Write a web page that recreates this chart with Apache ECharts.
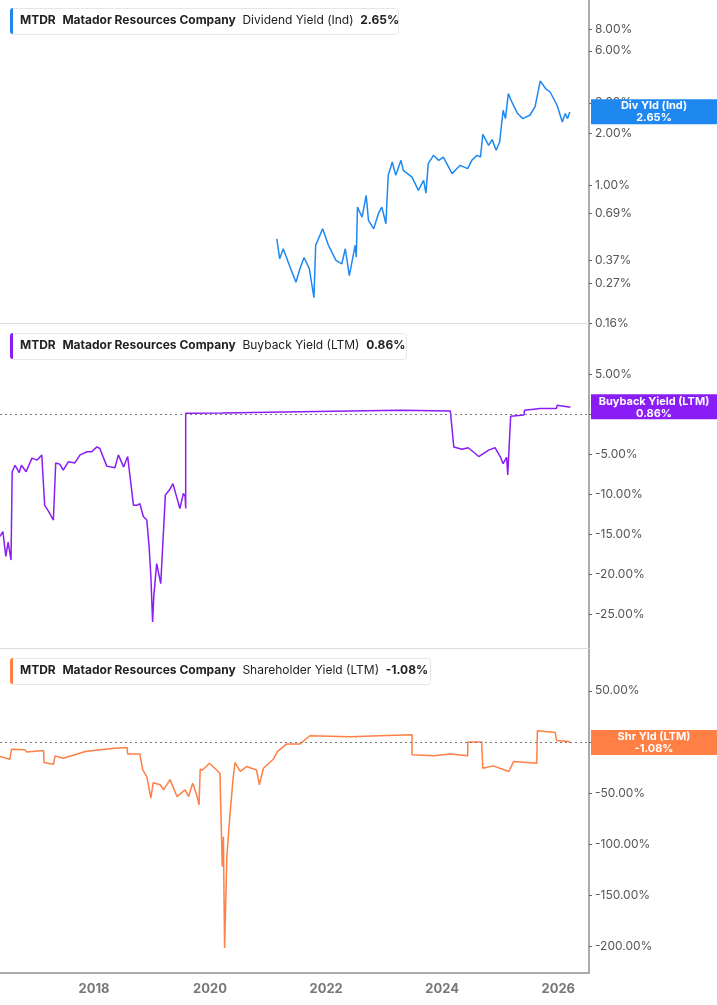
<!DOCTYPE html>
<html>
<head>
<meta charset="UTF-8">
<title></title>
<style>
  html, body { margin: 0; padding: 0; background: #fff; }
  #chart { width: 717px; height: 1005px; }
</style>
</head>
<body>
<div id="chart"></div>
<script src="https://cdn.jsdelivr.net/npm/echarts@6/dist/echarts.min.js"></script>
<script>
// dates as decimal years
var divYears = [2021.15,2021.20,2021.26,2021.38,2021.48,2021.55,2021.62,2021.71,2021.79,2021.82,2021.94,2022.04,2022.17,2022.27,2022.33,2022.40,2022.50,2022.52,2022.54,2022.62,2022.69,2022.73,2022.82,2022.90,2022.96,2023.03,2023.07,2023.14,2023.20,2023.29,2023.33,2023.48,2023.59,2023.68,2023.72,2023.76,2023.85,2023.94,2024.02,2024.17,2024.31,2024.44,2024.51,2024.60,2024.66,2024.70,2024.80,2024.86,2024.93,2024.99,2025.05,2025.09,2025.14,2025.20,2025.30,2025.39,2025.51,2025.60,2025.69,2025.78,2025.86,2025.98,2026.07,2026.12,2026.16,2026.20,2026.21];
var divYield = [0.491,0.376,0.430,0.336,0.275,0.331,0.383,0.330,0.224,0.450,0.561,0.450,0.368,0.352,0.430,0.301,0.450,0.384,0.749,0.655,0.875,0.627,0.561,0.686,0.749,0.600,1.143,1.364,1.143,1.395,1.221,1.117,0.936,1.069,0.902,1.336,1.492,1.395,1.458,1.169,1.306,1.249,1.395,1.492,1.458,1.974,1.704,1.839,1.595,1.781,2.718,2.433,3.396,3.036,2.602,2.433,2.543,2.841,4.018,3.630,3.467,2.906,2.326,2.602,2.433,2.658,2.65];

var bbYears = [2016.38,2016.43,2016.48,2016.52,2016.57,2016.59,2016.64,2016.71,2016.75,2016.83,2016.93,2017.02,2017.10,2017.13,2017.15,2017.22,2017.30,2017.33,2017.34,2017.41,2017.47,2017.56,2017.67,2017.76,2017.88,2017.96,2018.05,2018.10,2018.22,2018.36,2018.42,2018.51,2018.58,2018.58,2018.68,2018.74,2018.79,2018.85,2018.91,2018.95,2018.98,2019.01,2019.03,2019.08,2019.11,2019.15,2019.23,2019.30,2019.36,2019.43,2019.48,2019.54,2019.57,2019.58,2019.58,2019.60,2020.20,2021.55,2023.28,2024.14,2024.20,2024.34,2024.45,2024.63,2024.80,2024.91,2025.00,2025.05,2025.11,2025.13,2025.18,2025.41,2025.42,2025.69,2025.97,2025.98,2026.21];
var bbYield = [-15.3,-14.7,-17.8,-16.0,-18.25,-7.2,-6.4,-7.3,-6.4,-7.2,-5.5,-5.75,-5.1,-5.3,-11.4,-12.2,-13.25,-13.25,-6.1,-6.25,-7.0,-5.95,-6.1,-5.1,-4.7,-4.7,-4.1,-4.3,-6.5,-6.7,-5.1,-6.6,-5.3,-5.3,-11.4,-11.4,-11.2,-12.8,-13.25,-16.6,-20.3,-26.0,-22.8,-18.7,-18.9,-21.2,-10.1,-9.5,-8.7,-10.5,-11.8,-9.9,-10.3,-11.8,0.1,0.1,0.15,0.3,0.5,0.4,-4.1,-4.4,-4.2,-5.3,-4.5,-4.2,-5.3,-6.2,-5.4,-7.6,-0.25,-0.1,0.5,0.7,0.7,1.1,0.86];

var shYears = [2016.38,2016.55,2016.58,2016.81,2016.84,2017.13,2017.14,2017.30,2017.33,2017.47,2017.85,2018.10,2018.36,2018.57,2018.58,2018.79,2018.84,2018.91,2018.98,2019.02,2019.14,2019.20,2019.31,2019.43,2019.57,2019.63,2019.70,2019.77,2019.81,2019.83,2019.87,2019.99,2020.17,2020.21,2020.23,2020.25,2020.29,2020.34,2020.40,2020.43,2020.52,2020.63,2020.80,2020.85,2020.92,2021.09,2021.16,2021.32,2021.55,2021.72,2022.41,2022.93,2023.48,2023.48,2023.85,2024.14,2024.44,2024.44,2024.68,2024.70,2024.88,2025.15,2025.23,2025.63,2025.64,2025.95,2025.97,2026.18,2026.21];
var shYield = [-14.4,-17.0,-7.2,-7.8,-10.0,-8.5,-20.3,-21.9,-13.7,-16.0,-9.5,-7.8,-6.2,-5.6,-11.8,-12.0,-27.5,-34.0,-55.0,-40.0,-42.0,-47.0,-37.0,-53.6,-47.0,-53.6,-40.5,-52.0,-61.8,-26.8,-27.5,-20.9,-30.7,-122,-93,-202,-112,-73,-34,-20.3,-29,-24.2,-27.5,-42,-25.8,-17,-9.5,-2,-2,6,5,6,6.9,-12.7,-13.7,-11.8,-13.7,0,0,-25.8,-23.5,-29,-19.3,-20.9,11,9.1,1.3,0.3,-1.08];

var yearTicks = [2018, 2020, 2022, 2024, 2026];
var divTicks = [8, 6, 3, 2, 1, 0.69, 0.37, 0.27, 0.16];
var bbTicks = [5, 0, -5, -10, -15, -20, -25];
var shTicks = [50, 0, -50, -100, -150, -200];

function zip(xs, ys, f) {
  return xs.map(function (x, i) { return [x, f ? f(ys[i]) : ys[i]]; });
}

var chart = echarts.init(document.getElementById('chart'));
var xMin = 2016.38, xMax = 2026.53;
var grids = [
  { left: 0, right: 128, top: 0, height: 323 },
  { left: 0, right: 128, top: 323, height: 325 },
  { left: 0, right: 128, top: 648, height: 325 }
];
function xAxis(i, show) {
  return {
    type: 'value', gridIndex: i, min: xMin, max: xMax,
    axisLine: { show: true, onZero: false, lineStyle: { color: show ? '#aaa' : '#ddd', width: show ? 2 : 1 } },
    axisTick: { show: false },
    splitLine: { show: false },
    axisLabel: {
      show: show, customValues: yearTicks, color: '#777', fontWeight: 'bold', fontSize: 13,
      fontFamily: 'Inter', margin: 10, formatter: function (v) { return Math.round(v); }
    }
  };
}
function yAxis(i, min, max, ticks, fmt) {
  return {
    type: 'value', gridIndex: i, position: 'right', min: min, max: max,
    axisLine: { show: true, lineStyle: { color: '#aaa', width: 2 } },
    axisTick: { show: true, customValues: ticks, length: 3, lineStyle: { color: '#666' } },
    splitLine: { show: false },
    axisLabel: {
      customValues: ticks, color: '#555', fontSize: 12, fontFamily: 'Inter', margin: 6,
      formatter: fmt
    }
  };
}
var pct = function (v) { return v.toFixed(2) + '%'; };
var zeroLine = {
  silent: true, symbol: 'none', label: { show: false },
  lineStyle: { color: '#777', type: [2, 3], width: 1 },
  data: [{ yAxis: 0 }]
};

chart.setOption({
  animation: false,
  grid: grids,
  xAxis: [xAxis(0, false), xAxis(1, false), xAxis(2, true)],
  yAxis: [
    yAxis(0, Math.log10(0.16), Math.log10(11.8), divTicks.map(Math.log10),
      function (v) { return Math.pow(10, v).toFixed(2) + '%'; }),
    yAxis(1, -29.25, 11.4, bbTicks, pct),
    yAxis(2, -226.5, 92, shTicks, pct)
  ],
  series: [
    { type: 'line', xAxisIndex: 0, yAxisIndex: 0, showSymbol: false, lineStyle: { color: '#1e88f0', width: 1.5 },
      data: zip(divYears, divYield, Math.log10) },
    { type: 'line', xAxisIndex: 1, yAxisIndex: 1, showSymbol: false, lineStyle: { color: '#8a1cf5', width: 1.5 },
      data: zip(bbYears, bbYield), markLine: zeroLine },
    { type: 'line', xAxisIndex: 2, yAxisIndex: 2, showSymbol: false, lineStyle: { color: '#ff7f45', width: 1.5 },
      data: zip(shYears, shYield), markLine: zeroLine }
  ]
});

// headers and value tags
var headers = [
  { top: 8, color: '#1e88f0', metric: 'Dividend Yield (Ind)', val: '2.65%', w: 388 },
  { top: 333, color: '#8a1cf5', metric: 'Buyback Yield (LTM)', val: '0.86%', w: 396 },
  { top: 658, color: '#ff7f45', metric: 'Shareholder Yield (LTM)', val: '-1.08%', w: 420 }
];
var tags = [
  { s: 0, v: Math.log10(2.65), name: 'Div Yld (Ind)', val: '2.65%', color: '#1e88f0' },
  { s: 1, v: 0.86, name: 'Buyback Yield (LTM)', val: '0.86%', color: '#8a1cf5' },
  { s: 2, v: -1.08, name: 'Shr Yld (LTM)', val: '-1.08%', color: '#ff7f45' }
];
var g = [];
headers.forEach(function (h) {
  g.push({ type: 'rect', left: 10, top: h.top, shape: { width: h.w, height: 26, r: 3 },
    style: { fill: '#fff', stroke: '#e6e6e6', lineWidth: 1 } });
  g.push({ type: 'rect', left: 10, top: h.top, shape: { width: 3, height: 26, r: [3, 0, 0, 3] },
    style: { fill: h.color } });
  g.push({ type: 'text', left: 20, top: h.top + 6, style: {
    text: '{b|MTDR}  {b|Matador Resources Company}  {n|' + h.metric + '}  {b|' + h.val + '}',
    rich: {
      b: { fontWeight: 'bold', fontSize: 12, fill: '#222', fontFamily: 'Inter' },
      n: { fontSize: 12, fill: '#222', fontFamily: 'Inter' }
    } } });
});
tags.forEach(function (t) {
  var y = chart.convertToPixel({ yAxisIndex: t.s }, t.v);
  g.push({ type: 'rect', z: 100, left: 591, top: y - 13, shape: { width: 126, height: 25 },
    style: { fill: t.color } });
  g.push({ type: 'text', z: 101, x: 654, y: y - 12, style: {
    text: t.name + '\n' + t.val, fill: '#fff', fontWeight: 'bold', fontSize: 11,
    fontFamily: 'Inter', align: 'center', verticalAlign: 'top', lineHeight: 12 } });
});
chart.setOption({ graphic: g });
</script>
</body>
</html>
